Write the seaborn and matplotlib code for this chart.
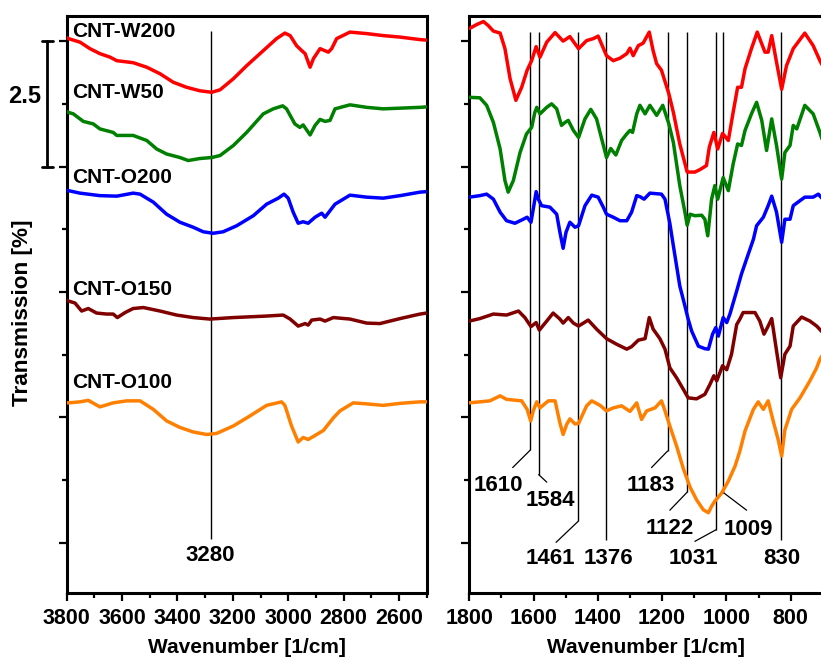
import numpy as np
import pandas as pd
import matplotlib
matplotlib.use("Agg")
import matplotlib.pyplot as plt
from matplotlib.ticker import MultipleLocator, NullFormatter
from matplotlib.transforms import blended_transform_factory
import seaborn as sns

# ---------------- spectra: high wavenumber range (3800-2500 1/cm) ----------------
w200_hi_x = [3800, 3794, 3752, 3716, 3680, 3643, 3619, 3560, 3511, 3463, 3415, 3367, 3319, 3276, 3246,
             3198, 3150, 3090, 3042, 3012, 2993, 2970, 2951, 2939, 2921, 2909, 2885, 2855, 2843, 2825,
             2777, 2717, 2657, 2596, 2524, 2500]
w200_hi_y = [10.07, 10.05, 9.98, 9.85, 9.75, 9.68, 9.61, 9.57, 9.48, 9.35, 9.18, 9.08, 9.01, 8.98, 9.03,
             9.25, 9.51, 9.81, 10.05, 10.16, 10.11, 9.91, 9.81, 9.75, 9.48, 9.65, 9.85, 9.78, 9.85, 10.05,
             10.18, 10.15, 10.11, 10.08, 10.03, 10.02]

w50_hi_x = [3800, 3794, 3776, 3740, 3704, 3680, 3632, 3619, 3560, 3511, 3475, 3439, 3391, 3361, 3319,
            3276, 3246, 3198, 3150, 3090, 3054, 3020, 3006, 2976, 2958, 2946, 2921, 2903, 2885, 2867,
            2849, 2831, 2777, 2717, 2657, 2524, 2500]
w50_hi_y = [8.60, 8.58, 8.55, 8.40, 8.35, 8.25, 8.18, 8.12, 8.12, 8.02, 7.85, 7.75, 7.68, 7.62, 7.66,
            7.68, 7.72, 7.92, 8.18, 8.55, 8.65, 8.71, 8.65, 8.35, 8.28, 8.33, 8.13, 8.32, 8.44, 8.40,
            8.42, 8.65, 8.73, 8.68, 8.65, 8.68, 8.69]

o200_hi_x = [3800, 3794, 3752, 3680, 3619, 3560, 3535, 3487, 3439, 3391, 3343, 3307, 3271, 3235, 3186,
             3126, 3078, 3036, 3015, 3000, 2982, 2964, 2946, 2928, 2903, 2879, 2867, 2831, 2777, 2717,
             2657, 2596, 2524, 2500]
o200_hi_y = [7.03, 7.02, 6.97, 6.92, 6.91, 6.97, 6.95, 6.79, 6.55, 6.39, 6.29, 6.20, 6.17, 6.20, 6.32,
             6.52, 6.75, 6.87, 6.95, 6.87, 6.59, 6.37, 6.40, 6.37, 6.49, 6.57, 6.49, 6.75, 6.93, 6.89,
             6.87, 6.92, 6.99, 7.00]

o150_hi_x = [3800, 3794, 3770, 3746, 3722, 3692, 3656, 3632, 3617, 3589, 3560, 3523, 3463, 3403, 3343,
             3283, 3198, 3078, 3018, 2993, 2964, 2939, 2928, 2915, 2885, 2867, 2837, 2777, 2717, 2669,
             2596, 2524, 2500]
o150_hi_y = [4.84, 4.82, 4.78, 4.62, 4.67, 4.58, 4.56, 4.56, 4.49, 4.59, 4.67, 4.69, 4.62, 4.54, 4.49,
             4.46, 4.49, 4.52, 4.54, 4.46, 4.32, 4.37, 4.34, 4.44, 4.46, 4.42, 4.49, 4.46, 4.38, 4.37,
             4.47, 4.56, 4.58]

o100_hi_x = [3800, 3794, 3752, 3722, 3680, 3632, 3583, 3535, 3487, 3439, 3391, 3343, 3295, 3259, 3198,
             3138, 3078, 3024, 3012, 2988, 2964, 2946, 2928, 2903, 2873, 2837, 2813, 2765, 2717, 2657,
             2596, 2524, 2500]
o100_hi_y = [2.79, 2.79, 2.81, 2.84, 2.71, 2.79, 2.83, 2.83, 2.66, 2.43, 2.30, 2.21, 2.16, 2.18, 2.33,
             2.53, 2.74, 2.81, 2.74, 2.33, 2.01, 2.10, 2.06, 2.14, 2.24, 2.49, 2.63, 2.79, 2.77, 2.74,
             2.78, 2.81, 2.81]

# ---------------- spectra: fingerprint range (1800-700 1/cm) ----------------
w200_lo_x = [1800, 1777, 1756, 1741, 1725, 1704, 1689, 1673, 1655, 1637, 1620, 1606, 1592, 1580, 1559,
             1533, 1508, 1487, 1460, 1435, 1414, 1399, 1373, 1352, 1331, 1310, 1300, 1290, 1274, 1259,
             1240, 1228, 1217, 1202, 1179, 1165, 1145, 1122, 1098, 1082, 1062, 1053, 1039, 1027, 1012,
             994, 979, 965, 953, 942, 922, 904, 880, 870, 859, 844, 828, 813, 792, 756,
             730, 709, 700]
w200_lo_y = [10.25, 10.33, 10.39, 10.31, 10.20, 10.16, 9.85, 9.25, 8.82, 9.08, 9.42, 9.61, 9.89, 9.68, 9.98,
             10.17, 10.00, 10.09, 9.85, 10.01, 10.05, 10.10, 9.71, 9.61, 9.66, 9.75, 9.86, 9.71, 9.91, 9.96,
             10.18, 9.81, 9.55, 9.42, 8.95, 8.58, 7.95, 7.39, 7.39, 7.44, 7.52, 7.89, 8.18, 7.85, 8.16,
             8.02, 8.58, 9.08, 9.08, 9.45, 9.85, 10.18, 9.78, 9.78, 10.11, 9.58, 9.04, 9.51, 9.85, 10.16,
             9.91, 9.61, 9.50]

w50_lo_x = [1800, 1767, 1746, 1725, 1704, 1689, 1679, 1663, 1642, 1622, 1606, 1596, 1590, 1580, 1559,
            1544, 1528, 1513, 1502, 1492, 1476, 1460, 1440, 1422, 1404, 1388, 1373, 1360, 1344, 1326,
            1310, 1300, 1292, 1279, 1269, 1253, 1238, 1217, 1198, 1179, 1165, 1145, 1129, 1122, 1113,
            1098, 1077, 1067, 1058, 1046, 1036, 1027, 1010, 994, 979, 965, 953, 942, 922, 906,
            890, 875, 859, 844, 828, 818, 802, 792, 781, 756, 730, 709, 700]
w50_lo_y = [8.88, 8.87, 8.72, 8.38, 7.85, 7.22, 6.99, 7.22, 7.78, 8.15, 8.28, 8.58, 8.68, 8.55, 8.68,
            8.75, 8.65, 8.32, 8.38, 8.42, 8.22, 8.08, 8.45, 8.64, 8.45, 8.05, 7.68, 7.86, 7.73, 8.02,
            8.15, 8.22, 8.18, 8.55, 8.72, 8.55, 8.72, 8.52, 8.72, 8.35, 7.98, 7.12, 6.59, 6.33, 6.55,
            6.52, 6.53, 6.45, 6.12, 6.85, 7.12, 6.85, 7.28, 7.02, 7.55, 7.95, 7.92, 8.22, 8.55, 8.78,
            8.42, 7.82, 8.45, 7.92, 7.25, 7.78, 7.92, 8.32, 8.25, 8.72, 8.55, 8.18, 8.00]

o200_lo_x = [1800, 1767, 1746, 1725, 1704, 1684, 1658, 1632, 1620, 1608, 1601, 1592, 1585, 1575, 1549,
             1528, 1518, 1508, 1499, 1487, 1471, 1460, 1440, 1419, 1399, 1383, 1373, 1352, 1331, 1310,
             1295, 1279, 1269, 1256, 1238, 1202, 1191, 1176, 1165, 1155, 1145, 1129, 1119, 1108, 1087,
             1067, 1056, 1043, 1033, 1025, 1010, 999, 989, 968, 953, 937, 916, 906, 885, 870,
             859, 844, 828, 818, 802, 792, 771, 756, 730, 714, 700]
o200_lo_y = [6.89, 6.92, 6.95, 6.85, 6.59, 6.42, 6.37, 6.45, 6.49, 6.39, 6.65, 7.00, 6.85, 6.72, 6.69,
             6.55, 6.19, 5.87, 6.19, 6.39, 6.29, 6.32, 6.72, 6.93, 6.89, 6.69, 6.55, 6.49, 6.42, 6.42,
             6.59, 6.92, 6.90, 6.85, 6.97, 6.95, 6.85, 6.37, 5.92, 5.52, 5.12, 4.72, 4.46, 4.22, 3.92,
             3.87, 3.86, 4.16, 4.29, 4.12, 4.49, 4.39, 4.56, 5.02, 5.36, 5.66, 6.05, 6.32, 6.49, 6.72,
             6.91, 6.59, 5.99, 6.45, 6.45, 6.72, 6.82, 6.89, 6.89, 6.95, 6.85]

o150_lo_x = [1800, 1767, 1725, 1684, 1647, 1627, 1608, 1592, 1582, 1559, 1539, 1518, 1508, 1492, 1476,
             1460, 1430, 1404, 1373, 1342, 1310, 1295, 1274, 1253, 1240, 1228, 1207, 1191, 1176, 1155,
             1134, 1119, 1093, 1067, 1051, 1039, 1030, 1012, 999, 984, 968, 958, 948, 911, 896,
             883, 870, 859, 844, 831, 818, 802, 792, 766, 740, 719, 700]
o150_lo_y = [4.42, 4.47, 4.56, 4.54, 4.62, 4.49, 4.31, 4.39, 4.24, 4.42, 4.58, 4.46, 4.38, 4.49, 4.38,
             4.32, 4.44, 4.26, 4.07, 3.96, 3.86, 3.91, 4.04, 4.07, 4.49, 4.26, 4.07, 3.86, 3.49, 3.29,
             3.06, 2.89, 2.87, 2.96, 3.16, 3.33, 3.23, 3.53, 3.45, 3.76, 4.35, 4.46, 4.59, 4.59, 4.42,
             4.16, 4.32, 4.47, 3.83, 3.29, 3.76, 3.92, 4.32, 4.50, 4.42, 4.32, 4.19]

o100_lo_x = [1800, 1736, 1704, 1684, 1637, 1620, 1609, 1601, 1590, 1580, 1554, 1533, 1518, 1508, 1497,
             1487, 1471, 1460, 1435, 1419, 1393, 1373, 1352, 1326, 1300, 1279, 1264, 1248, 1222, 1202,
             1191, 1176, 1155, 1134, 1113, 1093, 1072, 1056, 1046, 1036, 1015, 994, 973, 958, 942,
             916, 901, 885, 870, 854, 839, 828, 818, 797, 771, 740, 719, 709, 700]
o100_lo_y = [2.79, 2.83, 2.93, 2.86, 2.83, 2.66, 2.43, 2.63, 2.81, 2.69, 2.83, 2.83, 2.39, 2.16, 2.36,
             2.47, 2.37, 2.38, 2.73, 2.83, 2.74, 2.63, 2.69, 2.73, 2.62, 2.79, 2.46, 2.63, 2.69, 2.83,
             2.63, 2.33, 1.93, 1.48, 1.11, 0.86, 0.66, 0.60, 0.73, 0.83, 0.99, 1.23, 1.53, 1.83, 2.23,
             2.66, 2.81, 2.66, 2.83, 2.42, 2.06, 1.73, 2.25, 2.66, 2.89, 3.23, 3.49, 3.66, 3.75]

sample_names = ["CNT-W200", "CNT-W50", "CNT-O200", "CNT-O150", "CNT-O100"]
sample_colors = ["#FF0000", "#008000", "#0000FF", "#800000", "#FF8000"]
sample_label_y = [10.08, 8.86, 7.17, 4.94, 3.09]

# band assignments
hi_peaks = [3280]
hi_line_top = [10.2]
hi_line_bottom = [0.07]
hi_label_y = [-0.37]

lo_peaks = [1610, 1584, 1461, 1376, 1183, 1122, 1031, 1009, 830]
lo_line_top = 10.18
lo_line_bottom = [1.85, 1.36, 0.43, 0.05, 1.83, 1.01, 0.265, 1.00, 0.066]
lo_leader_x = [1665, 1559, 1530, 1376, 1233, 1176, 1098, 937, 830]
lo_leader_y = [1.50, 1.21, 0.01, 0.05, 1.50, 0.65, 0.03, 0.65, 0.066]
lo_label_x = [1708, 1549, 1547, 1367, 1235, 1176, 1104, 932, 828]
lo_label_y = [1.03, 0.73, -0.43, -0.43, 1.03, 0.17, -0.43, 0.15, -0.43]

scale_step = 2.5
scale_top = 10.0

# ---------------- figure ----------------
sns.set_style("ticks")
plt.rcParams["font.family"] = ["Liberation Sans", "DejaVu Sans"]
plt.rcParams["font.weight"] = "bold"
plt.rcParams["axes.labelweight"] = "bold"
for key in ("text.color", "axes.labelcolor", "axes.edgecolor", "xtick.color", "ytick.color"):
    plt.rcParams[key] = "black"

fig = plt.figure(figsize=(8.21, 6.57), dpi=100)
ax_hi = fig.add_axes([0.0812, 0.0974, 0.4385, 0.8782])
ax_lo = fig.add_axes([0.5716, 0.0974, 0.4306, 0.8782])

hi_series = [(w200_hi_x, w200_hi_y), (w50_hi_x, w50_hi_y), (o200_hi_x, o200_hi_y),
             (o150_hi_x, o150_hi_y), (o100_hi_x, o100_hi_y)]
lo_series = [(w200_lo_x, w200_lo_y), (w50_lo_x, w50_lo_y), (o200_lo_x, o200_lo_y),
             (o150_lo_x, o150_lo_y), (o100_lo_x, o100_lo_y)]

for ax, series in ((ax_hi, hi_series), (ax_lo, lo_series)):
    for (xs, ys), name, col in zip(series, sample_names, sample_colors):
        df = pd.DataFrame({"wavenumber": xs, "transmission": ys})
        sns.lineplot(data=df, x="wavenumber", y="transmission", ax=ax, color=col,
                     linewidth=2.5, legend=False, zorder=3)

ax_hi.set_xlim(3800, 2500)
ax_lo.set_xlim(1800, 700)
for ax in (ax_hi, ax_lo):
    ax.set_ylim(-1.0, 10.5)
    ax.xaxis.set_major_locator(MultipleLocator(200))
    ax.xaxis.set_minor_locator(MultipleLocator(100))
    ax.yaxis.set_major_locator(MultipleLocator(scale_step))
    ax.yaxis.set_minor_locator(MultipleLocator(scale_step / 2))
    ax.yaxis.set_major_formatter(NullFormatter())
    ax.tick_params(axis="both", which="major", direction="out", length=5.5, width=1.6,
                   labelsize=15.5, pad=5, colors="black")
    ax.tick_params(axis="both", which="minor", direction="out", length=3.5, width=1.6,
                   colors="black")
    ax.tick_params(axis="y", which="both", left=True, right=False)
    ax.tick_params(axis="x", which="both", bottom=True, top=False)
    for sp in ax.spines.values():
        sp.set_linewidth(2.2)
        sp.set_color("black")
        sp.set_visible(True)
    for lab in ax.get_xticklabels():
        lab.set_fontweight("bold")
    ax.set_xlabel("Wavenumber [1/cm]", fontsize=15, fontweight="bold")
    ax.xaxis.label.set_va("baseline")
    ax.xaxis.set_label_coords(0.5, -0.104)
    ax.set_ylabel("")

# y axis title and scale bar on the left panel
ax_hi.set_ylabel("Transmission [%]", fontsize=16.2, fontweight="bold")
ax_hi.yaxis.label.set_va("center")
ax_hi.yaxis.set_label_coords(-0.124, 0.485)

bt = blended_transform_factory(ax_hi.transAxes, ax_hi.transData)
ax_hi.plot([-0.054, -0.054], [scale_top - scale_step, scale_top], color="black", lw=2.0,
           transform=bt, clip_on=False)
for yv in (scale_top - scale_step, scale_top):
    ax_hi.plot([-0.0694, -0.0372], [yv, yv], color="black", lw=2.0, transform=bt, clip_on=False)
ax_hi.text(-0.116, scale_top - scale_step / 2 + 0.15, f"{scale_step}", transform=bt,
           ha="center", va="center", fontsize=17, fontweight="bold")

# sample names
for name, yv in zip(sample_names, sample_label_y):
    ax_hi.text(3781, yv, name, ha="left", va="baseline", fontsize=15, fontweight="bold")

# band markers, high range
for pk, top, bot, ly in zip(hi_peaks, hi_line_top, hi_line_bottom, hi_label_y):
    ax_hi.vlines(pk, bot, top, color="black", lw=1.0, zorder=2)
    ax_hi.text(pk, ly, f"{pk}", ha="center", va="baseline", fontsize=16, fontweight="bold")

# band markers, fingerprint range
for pk, bot, lx, ly, tx, ty in zip(lo_peaks, lo_line_bottom, lo_leader_x, lo_leader_y,
                                   lo_label_x, lo_label_y):
    ax_lo.vlines(pk, bot, lo_line_top, color="black", lw=1.0, zorder=2)
    if (lx, ly) != (pk, bot):
        ax_lo.plot([pk, lx], [bot, ly], color="black", lw=0.9, zorder=2)
    ax_lo.text(tx, ty, f"{pk}", ha="center", va="baseline", fontsize=16, fontweight="bold")

fig.savefig("out.png", dpi=100)
